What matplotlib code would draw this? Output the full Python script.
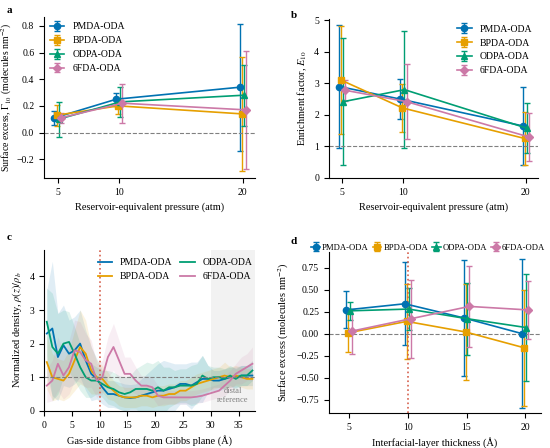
import numpy as np
import matplotlib
matplotlib.use("Agg")
import matplotlib.pyplot as plt

plt.rcParams['font.family'] = ['Liberation Serif', 'DejaVu Serif']
plt.rcParams['mathtext.fontset'] = 'stix'
plt.rcParams['font.size'] = 7

names = ["PMDA-ODA", "BPDA-ODA", "ODPA-ODA", "6FDA-ODA"]
colors = ["#0072B2", "#E69F00", "#009E73", "#CC79A7"]
markers = ["o", "s", "^", "D"]
dodge = [-0.25, -0.08, 0.08, 0.25]

# panel a: surface excess vs pressure
pressure = [5, 10, 20]
gamma_mean = [
    [0.11, 0.25, 0.34],
    [0.13, 0.20, 0.14],
    [0.10, 0.23, 0.28],
    [0.11, 0.22, 0.17],
]
gamma_err = [
    [0.05, 0.05, 0.475],
    [0.08, 0.06, 0.425],
    [0.13, 0.115, 0.23],
    [0.04, 0.145, 0.445],
]

# panel b: enrichment factor vs pressure
enrich_mean = [
    [2.90, 2.50, 1.65],
    [3.10, 2.22, 1.25],
    [2.42, 2.80, 1.58],
    [2.78, 2.42, 1.30],
]
enrich_err = [
    [1.95, 0.64, 1.25],
    [1.72, 0.77, 0.84],
    [2.02, 1.85, 0.79],
    [0.33, 1.19, 0.76],
]

# panel c: normalized density profiles
z = [0.5, 1.5, 2.5, 3.5, 4.5, 5.5, 6.5, 7.5, 8.5, 9.5, 10.5, 11.5, 12.5,
     13.5, 14.5, 15.5, 16.5, 17.5, 18.5, 19.5, 20.5, 21.5, 22.5, 23.5, 24.5,
     25.5, 26.5, 27.5, 28.5, 29.5, 30.5, 31.5, 32.5, 33.5, 34.5, 35.5, 36.5, 37.5]
rho = [
    [2.30, 2.45, 1.60, 1.95, 1.70, 1.80, 2.00, 1.50, 1.10, 0.95, 0.70, 0.50,
     0.50, 0.45, 0.40, 0.38, 0.40, 0.45, 0.50, 0.55, 0.60, 0.60, 0.65, 0.70,
     0.80, 0.80, 0.75, 0.85, 0.95, 0.95, 0.90, 0.90, 0.95, 1.00, 1.00, 1.05,
     1.05, 1.05],
    [1.45, 1.00, 0.95, 0.90, 1.10, 1.50, 1.90, 1.70, 1.20, 1.00, 0.95, 0.75,
     0.60, 0.45, 0.40, 0.40, 0.40, 0.45, 0.45, 0.40, 0.45, 0.45, 0.50, 0.50,
     0.60, 0.60, 0.70, 0.80, 0.85, 0.90, 0.95, 1.00, 1.05, 1.00, 1.05, 1.00,
     0.95, 0.95],
    [2.65, 1.90, 1.70, 2.00, 2.05, 1.70, 1.30, 1.00, 0.90, 0.90, 0.80, 0.70,
     0.65, 0.55, 0.50, 0.55, 0.65, 0.65, 0.65, 0.60, 0.70, 0.60, 0.70, 0.70,
     0.75, 0.75, 0.75, 0.80, 1.05, 0.95, 1.00, 1.00, 0.95, 1.05, 0.95, 1.05,
     1.05, 1.20],
    [0.75, 0.90, 1.40, 1.05, 1.30, 1.80, 1.75, 1.50, 1.40, 0.90, 1.00, 1.60,
     1.90, 1.50, 1.10, 1.10, 0.90, 0.75, 0.75, 0.70, 0.45, 0.40, 0.40, 0.40,
     0.40, 0.40, 0.40, 0.42, 0.45, 0.50, 0.55, 0.60, 0.75, 0.90, 1.10, 1.20,
     1.30, 1.40],
]
rho_sd = [
    [1.3, 2.0, 1.3, 1.2, 1.0, 1.0, 1.0, 0.9, 0.8, 0.6, 0.5, 0.4, 0.4, 0.4,
     0.4, 0.4, 0.4, 0.5, 0.6, 0.7, 0.8, 0.9, 0.8, 0.7, 0.6, 0.6, 0.7, 0.6,
     0.7, 0.4, 0.3, 0.3, 0.3, 0.3, 0.3, 0.3, 0.3, 0.3],
    [0.8, 0.7, 0.6, 0.6, 0.7, 0.9, 1.1, 1.0, 0.7, 0.5, 0.4, 0.4, 0.3, 0.3,
     0.3, 0.3, 0.3, 0.3, 0.3, 0.3, 0.3, 0.3, 0.3, 0.3, 0.3, 0.3, 0.3, 0.3,
     0.3, 0.3, 0.3, 0.3, 0.4, 0.3, 0.3, 0.3, 0.3, 0.3],
    [1.0, 1.6, 1.2, 1.0, 0.9, 0.8, 0.7, 0.6, 0.5, 0.4, 0.4, 0.5, 0.5, 0.5,
     0.5, 0.5, 0.6, 0.7, 0.8, 0.8, 0.8, 0.7, 0.6, 0.5, 0.5, 0.5, 0.6, 0.6,
     0.6, 0.4, 0.3, 0.3, 0.3, 0.3, 0.3, 0.3, 0.3, 0.3],
    [0.5, 0.6, 0.8, 0.7, 0.8, 0.9, 0.9, 0.8, 0.7, 0.5, 0.5, 0.6, 0.7, 0.6,
     0.5, 0.5, 0.4, 0.3, 0.3, 0.3, 0.3, 0.2, 0.2, 0.2, 0.2, 0.2, 0.2, 0.2,
     0.2, 0.2, 0.2, 0.2, 0.3, 0.3, 0.3, 0.4, 0.4, 0.5],
]

# panel d: surface excess vs interfacial-layer thickness
thickness = [5, 10, 15, 20]
excess_mean = [
    [0.27, 0.34, 0.18, 0.00],
    [0.01, 0.14, 0.02, -0.16],
    [0.26, 0.28, 0.17, 0.07],
    [0.03, 0.17, 0.31, 0.27],
]
excess_err = [
    [0.21, 0.47, 0.655, 0.845],
    [0.22, 0.425, 0.545, 0.655],
    [0.10, 0.235, 0.41, 0.61],
    [0.255, 0.445, 0.455, 0.33],
]


def errplot(ax, xs, means, errs):
    for i in range(4):
        xx = np.array(xs) + dodge[i]
        ax.errorbar(xx, means[i], yerr=errs[i], color=colors[i],
                    marker=markers[i], markersize=4.5, lw=1.2, capsize=2,
                    elinewidth=1.0, label=names[i])


def despine(ax):
    ax.spines['top'].set_visible(False)
    ax.spines['right'].set_visible(False)


fig = plt.figure(figsize=(5.5, 4.48), dpi=100)

# a
ax = fig.add_axes([0.08, 0.603, 0.384, 0.36])
errplot(ax, pressure, gamma_mean, gamma_err)
ax.axhline(0, color="gray", ls="--", lw=0.8)
ax.set_xticks(pressure)
ax.set_xlim(3.9, 21.0)
ax.set_ylim(-0.34, 0.87)
ax.set_yticks([-0.2, 0.0, 0.2, 0.4, 0.6, 0.8])
ax.set_xlabel("Reservoir-equivalent pressure (atm)", fontsize=7.5)
ax.set_ylabel(r"Surface excess, $\Gamma_{10}$ (molecules nm$^{-2}$)",
              fontsize=7, labelpad=2)
ax.legend(loc="upper left", frameon=False, handlelength=1.5, borderaxespad=0.2)
despine(ax)
fig.text(0.012, 0.972, "a", fontweight="bold", fontsize=8)

# b
ax = fig.add_axes([0.598, 0.603, 0.38, 0.355])
errplot(ax, pressure, enrich_mean, enrich_err)
ax.axhline(1, color="gray", ls="--", lw=0.8)
ax.set_xticks(pressure)
ax.set_xlim(3.9, 21.0)
ax.set_ylim(0, 5.05)
ax.set_xlabel("Reservoir-equivalent pressure (atm)", fontsize=7.5)
ax.set_ylabel(r"Enrichment factor, $E_{10}$", fontsize=7.5)
ax.legend(loc="upper right", frameon=False, handlelength=1.5, borderaxespad=0.2)
despine(ax)
fig.text(0.528, 0.96, "b", fontweight="bold", fontsize=8)

# c
ax = fig.add_axes([0.08, 0.083, 0.384, 0.36])
ax.axvspan(30, 38, color="#f2f2f2", lw=0)
for i in range(4):
    m = np.array(rho[i])
    s = np.array(rho_sd[i])
    ax.fill_between(z, m - s, m + s, color=colors[i], alpha=0.12, lw=0)
for i in range(4):
    ax.plot(z, rho[i], color=colors[i], lw=1.3, label=names[i])
ax.axhline(1, color="gray", ls="--", lw=0.8)
ax.axvline(10, color="#d6604d", ls=":", lw=1.2)
ax.text(34, 0.45, "distal\nreference", ha="center", va="center",
        color="gray", fontsize=6)
ax.set_xlim(0, 38)
ax.set_ylim(0, 4.8)
ax.set_xticks([0, 5, 10, 15, 20, 25, 30, 35])
ax.set_yticks([0, 1, 2, 3, 4])
ax.set_xlabel("Gas-side distance from Gibbs plane (Å)", fontsize=7.5)
ax.set_ylabel(r"Normalized density, $\rho(z)/\rho_b$", fontsize=7.5)
ax.legend(loc="upper center", bbox_to_anchor=(0.62, 1.0), ncol=2,
          frameon=False, handlelength=1.5, columnspacing=0.8)
despine(ax)
fig.text(0.012, 0.465, "c", fontweight="bold", fontsize=8)

# d
ax = fig.add_axes([0.598, 0.078, 0.385, 0.36])
errplot(ax, thickness, excess_mean, excess_err)
ax.axhline(0, color="gray", ls="--", lw=0.8)
ax.axvline(10, color="#d6604d", ls=":", lw=1.2)
ax.set_xticks(thickness)
ax.set_xlim(3.3, 21.3)
ax.set_ylim(-0.9, 0.93)
ax.set_yticks([-0.75, -0.5, -0.25, 0.0, 0.25, 0.5, 0.75])
ax.set_xlabel("Interfacial-layer thickness (Å)", fontsize=7.5)
ax.set_ylabel(r"Surface excess (molecules nm$^{-2}$)", fontsize=7.5)
ax.legend(loc="lower right", bbox_to_anchor=(1.03, 0.99), ncol=4,
          frameon=False, handlelength=1.0, columnspacing=0.45,
          handletextpad=0.25, fontsize=6.2, borderpad=0.2, borderaxespad=0)
despine(ax)
fig.text(0.528, 0.455, "d", fontweight="bold", fontsize=8)

fig.savefig("out.png", dpi=100)
